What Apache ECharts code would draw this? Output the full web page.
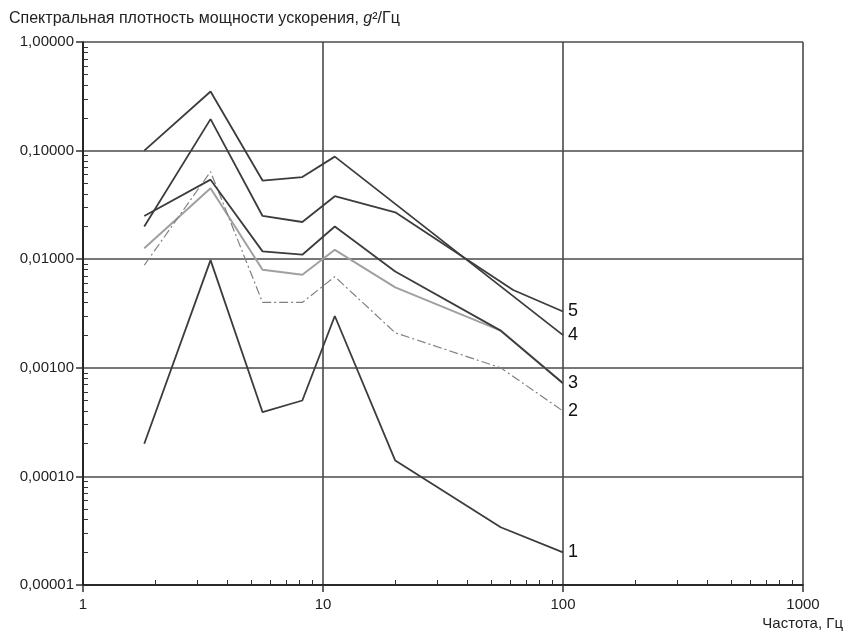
<!DOCTYPE html>
<html>
<head>
<meta charset="utf-8">
<script src="https://cdn.jsdelivr.net/npm/echarts@6/dist/echarts.min.js"></script>
<style>
  html, body { margin: 0; padding: 0; background: #fff; }
  #chart { width: 854px; height: 633px; }
</style>
</head>
<body>
<div id="chart"></div>
<script>
// Frequency axis ticks (Hz) and PSD axis ticks (g^2/Hz)
const freqTicks = [1, 10, 100, 1000];
const psdTicks = [0.00001, 0.0001, 0.001, 0.01, 0.1, 1];

// Spectral curves: [frequency, PSD] break points
const curve1 = [[1.8, 0.0002], [3.4, 0.0098], [5.6, 0.00039], [8.2, 0.0005], [11.2, 0.003], [20, 0.00014], [55, 0.000034], [100, 0.00002]];
const curve2 = [[1.8, 0.0088], [3.4, 0.064], [5.6, 0.004], [8.2, 0.004], [11.2, 0.0069], [20, 0.0021], [55, 0.001], [100, 0.0004]];
const curve3 = [[1.8, 0.025], [3.4, 0.054], [5.6, 0.0118], [8.2, 0.011], [11.2, 0.02], [20, 0.0077], [55, 0.0022], [100, 0.00072]];
const curveGrey = [[1.8, 0.0126], [3.4, 0.045], [5.6, 0.008], [8.2, 0.0072], [11.2, 0.0122], [20, 0.0055], [55, 0.0022], [100, 0.00072]];
const curve4 = [[1.8, 0.1], [3.4, 0.35], [5.6, 0.053], [8.2, 0.057], [11.2, 0.088], [100, 0.002]];
const curve5 = [[1.8, 0.02], [3.4, 0.195], [5.6, 0.025], [8.2, 0.022], [11.2, 0.038], [20, 0.027], [62, 0.0052], [100, 0.0033]];

const FONT = 'Liberation Sans, Arial, sans-serif';
const DARK = '#3c3c3c';

function psdLabel(v) {
  return Number(v).toFixed(5).replace('.', ',');
}

function endLabel(text) {
  return {
    show: true,
    formatter: text,
    distance: 5,
    color: '#111',
    fontFamily: FONT,
    fontSize: 18
  };
}

function line(data, color, width, type, label) {
  const s = {
    type: 'line',
    data: data,
    xAxisIndex: 0,
    yAxisIndex: 0,
    symbol: 'none',
    silent: true,
    lineStyle: { color: color, width: width, type: type }
  };
  if (label) s.endLabel = endLabel(label);
  return s;
}

const chart = echarts.init(document.getElementById('chart'), null, { renderer: 'canvas' });

chart.setOption({
  animation: false,
  backgroundColor: '#fff',
  title: [
    {
      left: 4,
      top: 6,
      text: '{a|Спектральная плотность мощности ускорения, }{g|g}{a|²/Гц}',
      textStyle: {
        fontWeight: 'normal',
        rich: {
          a: { fontFamily: FONT, fontSize: 16, fontWeight: 'normal', color: '#222' },
          g: { fontFamily: FONT, fontSize: 16, fontWeight: 'normal', fontStyle: 'italic', color: '#222' }
        }
      }
    },
    {
      right: 6,
      top: 611,
      text: 'Частота, Гц',
      textStyle: { fontFamily: FONT, fontSize: 15, fontWeight: 'normal', color: '#222' }
    }
  ],
  grid: { left: 83, right: 51, top: 42, bottom: 48, containLabel: false },
  xAxis: [
    {
      type: 'log',
      logBase: 10,
      min: freqTicks[0],
      max: freqTicks[freqTicks.length - 1],
      position: 'bottom',
      axisLine: { show: true, lineStyle: { color: '#111', width: 1.5 } },
      axisTick: { show: true, inside: false, length: 7, lineStyle: { color: '#333', width: 1.5 } },
      axisLabel: {
        margin: 12,
        fontFamily: FONT,
        fontSize: 15,
        color: '#222',
        formatter: function (v) { return String(Math.round(v)); }
      },
      splitLine: { show: true, lineStyle: { color: '#4a4a4a', width: 1.6 } }
    },
    {
      type: 'log',
      logBase: 10,
      min: freqTicks[0],
      max: freqTicks[freqTicks.length - 1],
      position: 'bottom',
      axisLine: { show: false },
      axisTick: { show: false, inside: true },
      minorTick: { show: true, splitNumber: 9, length: 5, lineStyle: { color: '#333', width: 1 } },
      axisLabel: { show: false },
      splitLine: { show: false }
    }
  ],
  yAxis: [
    {
      type: 'log',
      logBase: 10,
      min: psdTicks[0],
      max: psdTicks[psdTicks.length - 1],
      position: 'left',
      axisLine: { show: true, lineStyle: { color: '#111', width: 1.5 } },
      axisTick: { show: true, inside: false, length: 7, lineStyle: { color: '#333', width: 1.5 } },
      axisLabel: {
        margin: 9,
        fontFamily: FONT,
        fontSize: 15,
        color: '#222',
        formatter: psdLabel
      },
      splitLine: { show: true, lineStyle: { color: '#4a4a4a', width: 1.6 } }
    },
    {
      type: 'log',
      logBase: 10,
      min: psdTicks[0],
      max: psdTicks[psdTicks.length - 1],
      position: 'left',
      axisLine: { show: false },
      axisTick: { show: false, inside: true },
      minorTick: { show: true, splitNumber: 9, length: 5, lineStyle: { color: '#333', width: 1 } },
      axisLabel: { show: false },
      splitLine: { show: false }
    }
  ],
  series: [
    line(curveGrey, '#a0a0a0', 2, 'solid', null),
    line(curve2, '#808080', 1.2, [9, 3, 2, 3], '2'),
    line(curve1, DARK, 1.8, 'solid', '1'),
    line(curve3, DARK, 1.8, 'solid', '3'),
    line(curve4, DARK, 1.8, 'solid', '4'),
    line(curve5, DARK, 1.8, 'solid', '5')
  ]
});
</script>
</body>
</html>
